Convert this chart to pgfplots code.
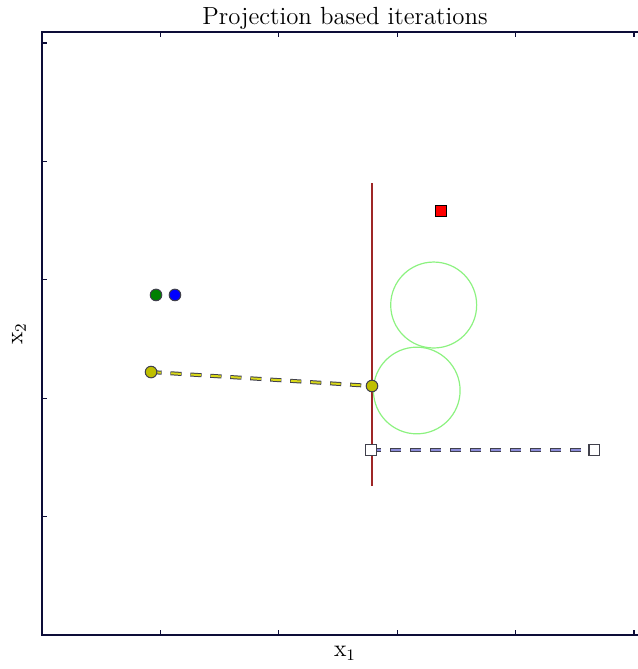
\documentclass[border=0pt]{standalone}
\usepackage{pgfplots}
\pgfplotsset{compat=1.18}
\definecolor{spine}{rgb}{0.05,0.05,0.22}
\definecolor{myyellow}{rgb}{0.75,0.75,0}
\definecolor{mygreen}{rgb}{0,0.5,0}
\definecolor{myblue}{rgb}{0,0,1}
\definecolor{myred}{rgb}{1,0,0}
\definecolor{darkredline}{rgb}{0.62,0.15,0.15}
\definecolor{circgreen}{rgb}{0.55,0.95,0.5}
\definecolor{edgegray}{rgb}{0.25,0.25,0.3}
\definecolor{dashblue}{rgb}{0.55,0.55,0.85}
\definecolor{dashyellow}{rgb}{0.85,0.85,0.1}
\begin{document}
\begin{tikzpicture}
\begin{axis}[
  at={(21pt,17pt)}, anchor=south west,
  scale only axis, width=303pt, height=301.5pt,
  xmin=0, xmax=5.118, ymin=0, ymax=5.093,
  xtick={0,1,2,3,4,5}, ytick={0,1,2,3,4,5},
  xticklabels={}, yticklabels={},
  tick align=inside, major tick length=2.4pt,
  axis line style={spine, line width=1.1pt},
  every tick/.style={spine, line width=0.6pt},
  title={Projection based iterations},
  title style={font=\fontsize{12.4}{14}\selectfont, at={(axis description cs:0.5,1)}, anchor=base, yshift=-2.5pt},
  xlabel={$\mathrm{x}_1$},
  xlabel style={font=\fontsize{12}{14}\selectfont, at={(axis description cs:0.5,0)}, anchor=north, yshift=-2pt},
  ylabel={$\mathrm{x}_2$},
  ylabel style={font=\fontsize{12}{14}\selectfont, at={(axis description cs:0,0.5)}, anchor=south, yshift=4.5pt},
]
% red vertical line
\addplot[darkredline, line width=0.8pt] coordinates {(2.787,1.258) (2.787,3.818)};
% green circles
\draw[circgreen, line width=0.6pt] (axis cs:3.308,2.787) circle [radius=0.363];
\draw[circgreen, line width=0.6pt] (axis cs:3.165,2.065) circle [radius=0.366];
% yellow dashed path
\addplot[edgegray, line width=2pt, dash pattern=on 5.6pt off 4.4pt, dash phase=0.3pt] coordinates {(0.921,2.221) (2.787,2.103)};
\addplot[dashyellow, line width=1pt, dash pattern=on 5pt off 5pt] coordinates {(0.921,2.221) (2.787,2.103)};
% blue dashed path
\addplot[edgegray, line width=2pt, dash pattern=on 5.6pt off 4.4pt, dash phase=0.3pt] coordinates {(2.777,1.562) (4.665,1.562)};
\addplot[dashblue, line width=1pt, dash pattern=on 5pt off 5pt] coordinates {(2.777,1.562) (4.665,1.562)};
% markers
\addplot[only marks, mark=*, mark size=2.9pt, mark options={fill=myyellow, draw=edgegray, line width=0.5pt}] coordinates {(0.921,2.221) (2.787,2.103)};
\addplot[only marks, mark=square*, mark size=2.7pt, mark options={fill=white, draw=edgegray, line width=0.6pt}] coordinates {(2.777,1.562) (4.665,1.562)};
\addplot[only marks, mark=*, mark size=2.9pt, mark options={fill=mygreen, draw=edgegray, line width=0.5pt}] coordinates {(0.963,2.872)};
\addplot[only marks, mark=*, mark size=2.9pt, mark options={fill=myblue, draw=edgegray, line width=0.5pt}] coordinates {(1.123,2.872)};
\addplot[only marks, mark=square*, mark size=2.6pt, mark options={fill=myred, draw=black, line width=0.6pt}] coordinates {(3.370,3.581)};
\end{axis}
\pgfresetboundingbox
\useasboundingbox (0,0) rectangle (318.5pt,334.5pt);
\end{tikzpicture}
\end{document}
